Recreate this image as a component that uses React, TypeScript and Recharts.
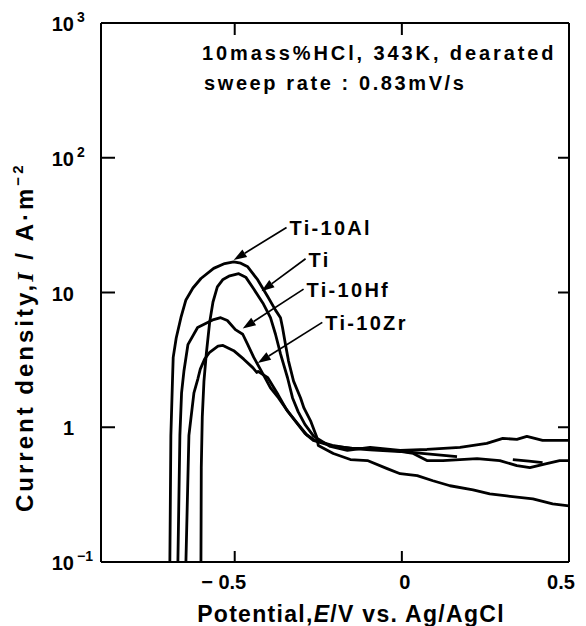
import React from 'react';
import { LineChart, Line, XAxis, YAxis, ReferenceLine, Customized } from 'recharts';

const FONT = "'Liberation Sans', Arial, Helvetica, sans-serif";

// ---- axes ----
const potentialDomain = [-0.9, 0.5];
const potentialTicks = [-0.5, 0, 0.5];
const potentialTickLabels = ['\u2212 0.5', '0', '0.5'];
const currentDomain = [0.1, 1000];
const currentTicks = [0.1, 1, 10, 100, 1000];
const currentTickBase = ['10', '1', '10', '10', '10'];
const currentTickSup = ['\u22121', '', '', '2', '3'];

// ---- curves: [E (V vs Ag/AgCl), I (A/m^2)] ----
const ti10Al: [number, number | null][] = [
  [-0.696, 0.05], [-0.694, 0.1], [-0.691, 0.87], [-0.686, 2.3], [-0.684, 3.3], [-0.675, 4.6],
  [-0.661, 6.5], [-0.646, 8.8], [-0.625, 10.8], [-0.601, 12.7], [-0.563, 15.1], [-0.53, 16.4],
  [-0.503, 16.9], [-0.482, 16.5], [-0.461, 15.5], [-0.431, 12.4], [-0.401, 9.3], [-0.378, 7.4],
  [-0.363, 6.5], [-0.357, 5.5], [-0.348, 4.1], [-0.339, 3.1], [-0.324, 2.2], [-0.303, 1.65],
  [-0.293, 1.39], [-0.272, 1.1], [-0.255, 0.85], [-0.25, 0.733], [-0.205, 0.639], [-0.154, 0.576],
  [-0.103, 0.566], [-0.044, 0.493], [-0.005, 0.452], [0.046, 0.437], [0.093, 0.401], [0.144, 0.368],
  [0.213, 0.343], [0.263, 0.32], [0.314, 0.309], [0.392, 0.294], [0.451, 0.27], [0.5, 0.261],
];

const tiPure: [number, number | null][] = [
  [-0.602, 0.05], [-0.601, 0.1], [-0.6, 0.5], [-0.597, 1.2], [-0.592, 2.2], [-0.585, 3.5],
  [-0.575, 6.0], [-0.565, 8.5], [-0.552, 11.0], [-0.535, 12.5], [-0.515, 13.3], [-0.488, 13.8],
  [-0.467, 13.0], [-0.443, 10.6], [-0.414, 8.2], [-0.393, 6.5], [-0.378, 4.9], [-0.363, 3.5],
  [-0.342, 2.33], [-0.327, 1.65], [-0.31, 1.3], [-0.29, 1.05], [-0.264, 0.86], [-0.214, 0.72],
  [-0.163, 0.673], [-0.095, 0.708], [-0.005, 0.673], [0.075, 0.684], [0.174, 0.708], [0.254, 0.759],
  [0.302, 0.827], [0.344, 0.813], [0.374, 0.856], [0.421, 0.8], [0.5, 0.8],
];

const ti10Hf: [number, number | null][] = [
  [-0.672, 0.05], [-0.67, 0.1], [-0.664, 0.87], [-0.659, 1.8], [-0.652, 2.6], [-0.64, 4.1],
  [-0.611, 5.5], [-0.563, 6.3], [-0.542, 6.5], [-0.522, 6.2], [-0.498, 5.3], [-0.476, 4.9],
  [-0.461, 4.1], [-0.443, 3.3], [-0.414, 2.45], [-0.393, 1.96], [-0.369, 1.65], [-0.34, 1.3],
  [-0.31, 1.05], [-0.285, 0.88], [-0.26, 0.8], [-0.208, 0.733], [-0.154, 0.696], [-0.095, 0.68],
  [-0.005, 0.661], [0.034, 0.639], [0.075, 0.566], [0.123, 0.566], [0.225, 0.586], [0.293, 0.566],
  [0.344, 0.519], [0.383, 0.502], [0.433, 0.538], [0.472, 0.566], [0.5, 0.566],
];

const ti10Zr: [number, number | null][] = [
  [-0.647, 0.05], [-0.646, 0.1], [-0.637, 0.87], [-0.622, 1.8], [-0.61, 2.3], [-0.603, 2.7],
  [-0.59, 3.2], [-0.575, 3.6], [-0.55, 4.0], [-0.535, 4.05], [-0.503, 3.7], [-0.473, 3.2],
  [-0.446, 2.77], [-0.434, 2.55], [-0.43, 2.6], [-0.401, 2.33], [-0.37, 1.74], [-0.345, 1.35],
  [-0.315, 1.08], [-0.29, 0.9], [-0.265, 0.8], [-0.205, 0.72], [-0.15, 0.7], [-0.09, 0.69],
  [-0.02, 0.67], [0.06, 0.64], [0.165, 0.606], [0.2, null], [0.332, 0.576], [0.38, 0.56],
  [0.421, 0.547], [0.45, null],
];

// ---- annotations ----
const annotationLabels = ['Ti-10Al', 'Ti', 'Ti-10Hf', 'Ti-10Zr'];
const arrowStarts: [number, number][] = [[-0.345, 30.4], [-0.288, 17.8], [-0.294, 10.6], [-0.238, 6.0]];
const arrowTips: [number, number][] = [[-0.503, 17.4], [-0.42, 10.2], [-0.476, 5.4], [-0.431, 3.0]];
const conditionLines = ['10mass%HCl, 343K, dearated', 'sweep rate : 0.83mV/s'];

const toRows = (pairs: [number, number | null][]) => pairs.map(([E, I]) => ({ E, I }));

const series = [ti10Al, tiPure, ti10Hf, ti10Zr];

const textStyle = { fontFamily: FONT, fontWeight: 'bold' as const, fill: '#000' };

const LeftTick = (props: any) => {
  const { x, y, payload } = props;
  const i = currentTicks.indexOf(payload.value);
  const inner = payload.value > 0.1 && payload.value < 1000;
  return (
    <g>
      {inner && <line x1={x} y1={y} x2={x + 14} y2={y} stroke="#000" strokeWidth={2} />}
      <text x={x - 27} y={y + 8} textAnchor="end" fontSize={20} {...textStyle}>{currentTickBase[i]}</text>
      {currentTickSup[i] && (
        <text x={x - 24} y={y - 1} textAnchor="start" fontSize={14} {...textStyle}>{currentTickSup[i]}</text>
      )}
    </g>
  );
};

const RightTick = (props: any) => {
  const { x, y, payload } = props;
  const inner = payload.value > 0.1 && payload.value < 1000;
  return <g>{inner && <line x1={x} y1={y} x2={x - 11} y2={y} stroke="#000" strokeWidth={2} />}</g>;
};

const BottomTick = (props: any) => {
  const { x, y, payload } = props;
  const i = potentialTicks.indexOf(payload.value);
  const v = payload.value;
  const edge = v >= potentialDomain[1];
  const shift = v < 0 ? -11 : edge ? -8 : 3;
  return (
    <g>
      {!edge && <line x1={x} y1={y} x2={x} y2={y - 11} stroke="#000" strokeWidth={2} />}
      <text x={x + shift} y={y + 27} textAnchor="middle" fontSize={20} {...textStyle}>{potentialTickLabels[i]}</text>
    </g>
  );
};

const TopTick = (props: any) => {
  const { x, y, payload } = props;
  const edge = payload.value >= potentialDomain[1];
  return <g>{!edge && <line x1={x} y1={y} x2={x} y2={y + 12} stroke="#000" strokeWidth={2} />}</g>;
};

const Arrow = (props: any) => {
  const { x1, y1, x2, y2, text } = props;
  const dx = x2 - x1;
  const dy = y2 - y1;
  const len = Math.hypot(dx, dy) || 1;
  const ux = dx / len;
  const uy = dy / len;
  const headL = 13;
  const headW = 4.5;
  const bx = x2 - ux * headL;
  const by = y2 - uy * headL;
  const px = -uy;
  const py = ux;
  return (
    <g>
      <line x1={x1} y1={y1} x2={bx} y2={by} stroke="#000" strokeWidth={1.7} />
      <polygon
        points={`${x2},${y2} ${bx + px * headW},${by + py * headW} ${bx - px * headW},${by - py * headW}`}
        fill="#000"
      />
      <text x={x1 + 3} y={y1 + 8} fontSize={20} style={{ letterSpacing: 2.3 }} {...textStyle}>{text}</text>
    </g>
  );
};

const Titles = () => (
  <g>
    <text x={202} y={60} fontSize={20} style={{ letterSpacing: 2.9 }} {...textStyle}>{conditionLines[0]}</text>
    <text x={204} y={90} fontSize={20} style={{ letterSpacing: 2.6 }} {...textStyle}>{conditionLines[1]}</text>
    <text x={351} y={622} textAnchor="middle" fontSize={23} style={{ letterSpacing: 1.3 }} {...textStyle}>
      Potential,<tspan fontStyle="italic">E</tspan>/V vs. Ag/AgCl
    </text>
    <text
      x={33}
      y={512}
      transform="rotate(-90 33 512)"
      textAnchor="start"
      fontSize={24}
      style={{ letterSpacing: 3 }}
      {...textStyle}
    >
      Current density,
      <tspan fontStyle="italic" fontFamily="'Liberation Serif', 'Times New Roman', serif">I</tspan>
      {' / A\u00b7m'}
      <tspan dy={-10} fontSize={15}>{'\u22122'}</tspan>
    </text>
  </g>
);

export default function App() {
  return (
    <div style={{ position: 'absolute', left: 0, top: 0, background: '#fff' }}>
      <LineChart width={586} height={626} margin={{ top: 22, right: 16, bottom: 63, left: 100 }}>
        <XAxis
          xAxisId={0}
          dataKey="E"
          type="number"
          domain={potentialDomain}
          allowDataOverflow
          ticks={potentialTicks}
          interval={0}
          height={1}
          tickSize={0}
          tickMargin={0}
          tickLine={false}
          axisLine={{ stroke: '#000', strokeWidth: 2 }}
          tick={<BottomTick />}
        />
        <XAxis
          xAxisId="top"
          orientation="top"
          dataKey="E"
          type="number"
          domain={potentialDomain}
          allowDataOverflow
          ticks={potentialTicks}
          interval={0}
          height={1}
          tickSize={0}
          tickMargin={0}
          tickLine={false}
          axisLine={{ stroke: '#000', strokeWidth: 2 }}
          tick={<TopTick />}
        />
        <YAxis
          yAxisId={0}
          type="number"
          scale="log"
          domain={currentDomain}
          allowDataOverflow
          ticks={currentTicks}
          interval={0}
          width={1}
          tickSize={0}
          tickMargin={0}
          tickLine={false}
          axisLine={{ stroke: '#000', strokeWidth: 2 }}
          tick={<LeftTick />}
        />
        <YAxis
          yAxisId="right"
          orientation="right"
          type="number"
          scale="log"
          domain={currentDomain}
          allowDataOverflow
          ticks={currentTicks}
          interval={0}
          width={1}
          tickSize={0}
          tickMargin={0}
          tickLine={false}
          axisLine={{ stroke: '#000', strokeWidth: 2 }}
          tick={<RightTick />}
        />
        {series.map((s, k) => (
          <Line
            key={k}
            data={toRows(s)}
            dataKey="I"
            type="linear"
            stroke="#000"
            strokeWidth={2.8}
            strokeLinejoin="round"
            dot={false}
            activeDot={false}
            connectNulls={false}
            isAnimationActive={false}
          />
        ))}
        {annotationLabels.map((label, k) => (
          <ReferenceLine
            key={label}
            segment={[
              { x: arrowStarts[k][0], y: arrowStarts[k][1] },
              { x: arrowTips[k][0], y: arrowTips[k][1] },
            ]}
            ifOverflow="visible"
            shape={(p: any) => <Arrow {...p} text={label} />}
          />
        ))}
        <Customized component={Titles} />
      </LineChart>
    </div>
  );
}
